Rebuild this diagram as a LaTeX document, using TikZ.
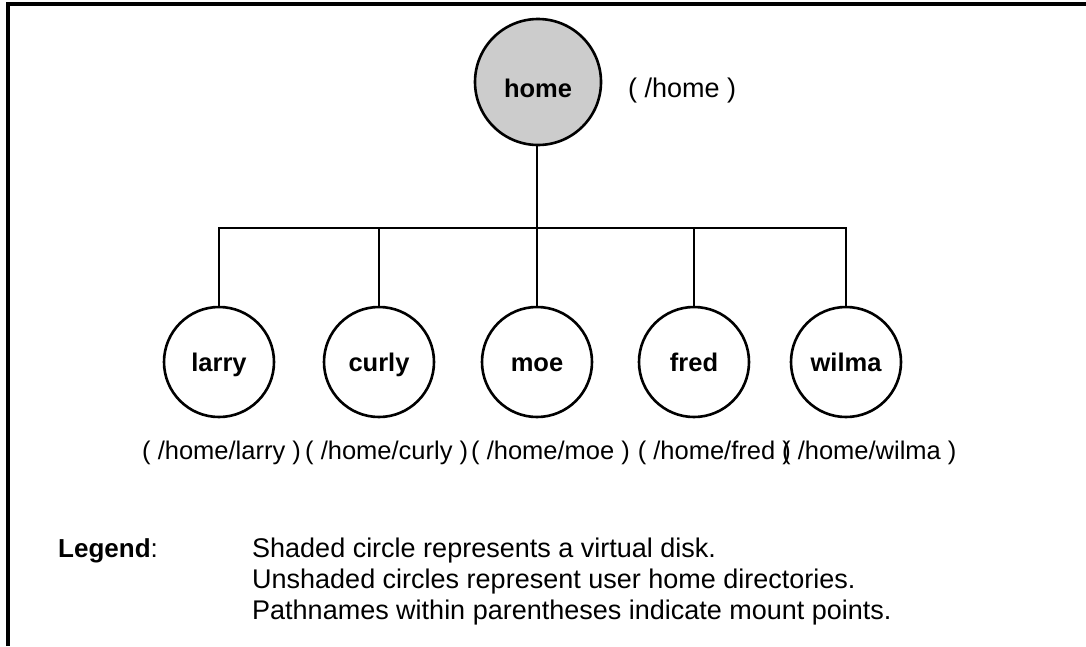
\documentclass[tikz,border=0pt]{standalone}
\usepackage{fontspec}
\setmainfont{Liberation Sans}
\begin{document}
\begin{tikzpicture}[x=1pt,y=-1pt,
  wire/.style={line width=2.4pt},
  dirnode/.style={circle, draw, line width=2.6pt, minimum size=110pt, inner sep=0pt,
    text height=18pt, text depth=0pt, font=\fontsize{25.5}{28}\selectfont\bfseries},
  disknode/.style={circle, draw, line width=2.6pt, minimum size=126pt, inner sep=0pt,
    fill=black!20},
  boldtext/.style={inner sep=0pt, font=\fontsize{25.5}{28}\selectfont\bfseries},
  pathtext/.style={inner sep=0pt, anchor=base west, font=\fontsize{25.5}{28}\selectfont},
  legendtext/.style={inner sep=0pt, anchor=base west, font=\fontsize{27}{31}\selectfont}]
\useasboundingbox (0,0) rectangle (1086,646);

% frame
\coordinate (fbl) at (8,646);
\coordinate (ftl) at (8,4);
\coordinate (ftr) at (1086,4);
\draw[line width=3.2pt] (fbl) -- (ftl) -- (ftr);

% virtual disk
\node[disknode] (home) at (538,82) {};
\node[boldtext, anchor=base] (homename) at (538,97) {home};
\node[legendtext] (homepath) at (628,97) {( /home )};

% user home directories
\node[dirnode] (larry) at (219,362) {larry};
\node[dirnode] (curly) at (379,362) {curly};
\node[dirnode] (moe)   at (537,362) {moe};
\node[dirnode] (fred)  at (694,362) {fred};
\node[dirnode] (wilma) at (846,362) {wilma};

% tree connectors
\coordinate (bar) at (537,228);
\draw[wire] (home.south -| bar) -- (bar);
\draw[wire] (larry.north) |- (bar) -| (wilma.north);
\draw[wire] (curly.north) -- (curly.north |- bar);
\draw[wire] (moe.north) -- (moe.north |- bar);
\draw[wire] (fred.north) -- (fred.north |- bar);

% mount points
\node[pathtext] (larrypath) at (142,459) {( /home/larry )};
\node[pathtext] (curlypath) at (305,459) {( /home/curly )};
\node[pathtext] (moepath)   at (471,459) {( /home/moe )};
\node[pathtext, anchor=base east] (fredpath) at (791,459) {( /home/fred )};
\node[pathtext] (wilmapath) at (782,459) {( /home/wilma )};

% legend
\node[inner sep=0pt, anchor=base west, font=\fontsize{26}{30}\selectfont] (legend) at (58,557) {\textbf{Legend}:};
\node[legendtext] (leg1) at (252,557) {Shaded circle represents a virtual disk.};
\node[legendtext] (leg2) at (252,588) {Unshaded circles represent user home directories.};
\node[legendtext] (leg3) at (252,619) {Pathnames within parentheses indicate mount points.};
\end{tikzpicture}
\end{document}
